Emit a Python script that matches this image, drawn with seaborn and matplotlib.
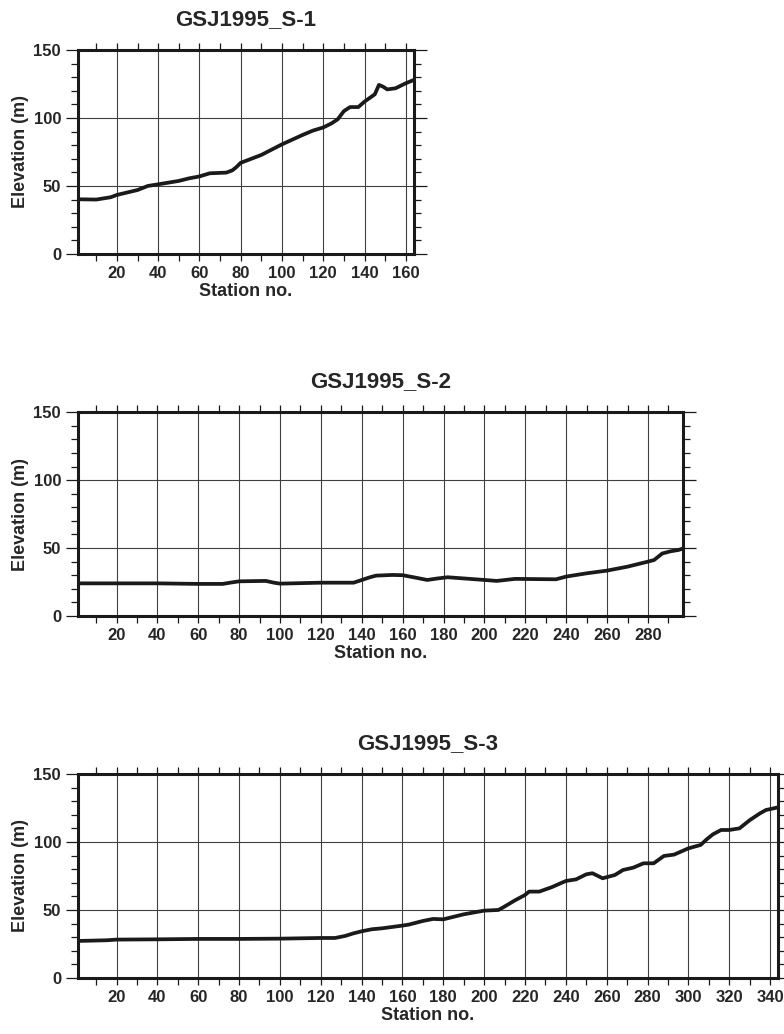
import matplotlib
matplotlib.use("Agg")
import matplotlib.pyplot as plt
import seaborn as sns
import pandas as pd

# Survey line S-1
s1_station = [1, 10, 17, 20, 30, 35, 40, 50, 55, 60, 65, 73, 76, 78, 80, 90,
              100, 110, 115, 120, 124, 127, 130, 133, 137, 140, 145, 147, 149,
              151, 155, 160, 164]
s1_elev = [40.2, 40.0, 41.7, 43.4, 47.0, 50.0, 51.2, 53.7, 55.6, 57.0, 59.3,
           59.8, 61.5, 64.0, 67.0, 72.8, 80.6, 87.5, 90.7, 93.0, 96.0, 99.0,
           105.0, 108.0, 108.0, 112.0, 117.4, 124.3, 123.0, 121.0, 121.8,
           125.5, 128.0]

# Survey line S-2
s2_station = [1, 40, 60, 72, 76, 80, 93, 97, 100, 120, 136, 140, 144, 147,
              155, 160, 166, 172, 177, 182, 200, 206, 215, 235, 240, 250, 260,
              270, 280, 283, 287, 291, 295, 297]
s2_elev = [24.0, 24.0, 23.6, 23.6, 24.6, 25.5, 25.8, 24.5, 23.8, 24.5, 24.5,
           26.5, 28.5, 29.7, 30.2, 30.0, 28.3, 26.5, 27.6, 28.5, 26.5, 25.8,
           27.3, 27.0, 29.0, 31.4, 33.4, 36.3, 40.0, 41.2, 46.0, 47.6, 48.6,
           49.6]

# Survey line S-3
s3_station = [1, 15, 20, 40, 60, 80, 100, 120, 127, 132, 136, 140, 145, 150,
              160, 163, 170, 175, 180, 190, 200, 207, 210, 215, 220, 222, 227,
              233, 240, 245, 250, 253, 258, 264, 268, 273, 278, 283, 288, 293,
              300, 306, 309, 312, 316, 320, 325, 330, 335, 338, 342, 344]
s3_elev = [27.2, 27.7, 28.2, 28.4, 28.7, 28.7, 28.9, 29.4, 29.4, 30.9, 32.8,
           34.3, 35.8, 36.5, 38.5, 39.2, 41.9, 43.4, 43.1, 46.8, 49.5, 50.0,
           52.5, 57.0, 61.0, 63.5, 63.5, 66.7, 71.3, 72.5, 76.2, 77.0, 73.3,
           75.7, 79.4, 81.1, 84.3, 84.3, 89.7, 90.7, 95.3, 97.8, 102.0, 105.6,
           108.8, 108.8, 110.0, 116.0, 121.0, 123.5, 124.8, 125.5]

profiles = [
    ("GSJ1995_S-1", s1_station, s1_elev, 164, [0.0991, 0.7544, 0.4290, 0.1973]),
    ("GSJ1995_S-2", s2_station, s2_elev, 297, [0.0991, 0.4043, 0.7717, 0.1970]),
    ("GSJ1995_S-3", s3_station, s3_elev, 344, [0.0991, 0.0542, 0.8936, 0.1973]),
]

sns.set_style("ticks")
plt.rcParams["font.family"] = ["Liberation Sans", "DejaVu Sans"]
plt.rcParams["font.weight"] = "bold"

fig = plt.figure(figsize=(7.84, 10.34), dpi=100)

for title, station, elev, last, rect in profiles:
    ax = fig.add_axes(rect)
    df = pd.DataFrame({"Station no.": station, "Elevation (m)": elev})
    sns.lineplot(data=df, x="Station no.", y="Elevation (m)", ax=ax,
                 color="#1a1a1a", linewidth=2.7, zorder=3)
    ax.set_xlim(1, last)
    ax.set_ylim(0, 150)

    ax.set_xticks(list(range(20, last + 1, 20)))
    ax.set_xticks(list(range(10, last + 1, 10)), minor=True)
    ax.set_yticks([0, 50, 100, 150])
    ax.set_yticks(list(range(0, 151, 10)), minor=True)

    ax.grid(which="major", color="0.25", linewidth=0.8, zorder=1)
    for sp in ax.spines.values():
        sp.set_linewidth(2.2)
        sp.set_color("#1a1a1a")
        sp.set_zorder(4)

    ax.tick_params(which="both", direction="out", top=True, right=True,
                   labeltop=False, labelright=False, width=0.9,
                   color="#1a1a1a", labelsize=12)
    ax.tick_params(axis="x", which="both", length=5, pad=4)
    ax.tick_params(axis="y", which="major", length=9, pad=3)
    ax.tick_params(axis="y", which="minor", length=5)

    ax.set_title(title, fontsize=16, fontweight="bold", pad=18)
    ax.set_xlabel("Station no.", fontsize=13, fontweight="bold", labelpad=1)
    ax.set_ylabel("Elevation (m)", fontsize=13, fontweight="bold", labelpad=3)
    for lbl in ax.get_xticklabels() + ax.get_yticklabels():
        lbl.set_fontweight("bold")

fig.savefig("out.png", dpi=100)
